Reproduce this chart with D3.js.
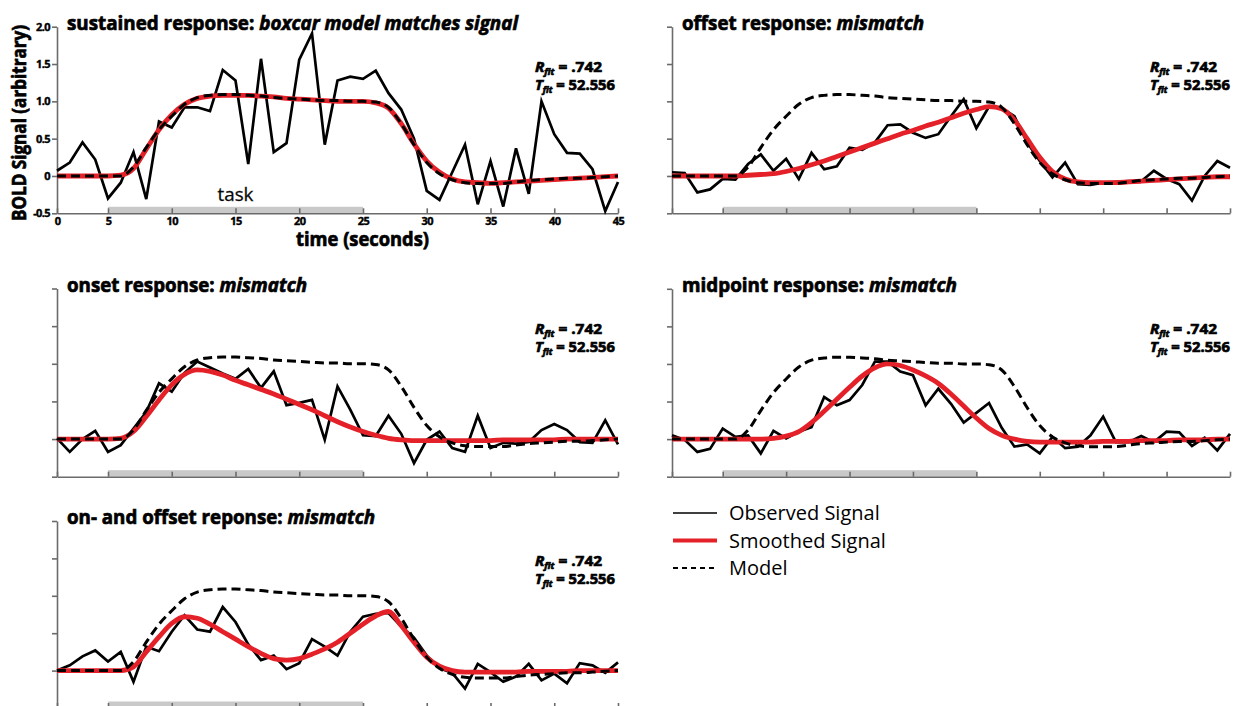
<!DOCTYPE html>
<html lang="en">
<head>
    <meta charset="UTF-8">
    <title>boxcar model fits</title>
    <script src="https://d3js.org/d3.v7.min.js"></script>
    <style>
        body { margin: 0; background: #fff; }
        svg text { font-family: "Open Sans", "Noto Sans", sans-serif; fill: #000; }
        .axis path, .axis line { stroke: #6b6b6b; stroke-width: 1.6px; }
        .heavy { stroke: #000; stroke-width: 0.7px; }
    </style>
</head>
<body>
<svg id="fig" width="1233" height="706"></svg>

<script>
    // sample times (s); the axis label "0" sits on the first sample
    let time = d3.range(1, 46)
    let xTickValues = [1, 5, 10, 15, 20, 25, 30, 35, 40, 45]
    let xTickLabels = ["0", "5", "10", "15", "20", "25", "30", "35", "40", "45"]
    let yTickValues = [-0.5, 0, 0.5, 1, 1.5, 2]
    let yTickLabels = ["-0.5", "0", "0.5", "1.0", "1.5", "2.0"]
    let taskBlock = [5, 25]
    let legendNames = ["Observed Signal", "Smoothed Signal", "Model"]
    let fitR = ".742"
    let fitT = "52.556"

    // boxcar model (same in every panel)
    let model = [0, 0, 0, 0, 0, 0.0, 0.12, 0.38, 0.62, 0.8,
        0.96, 1.05, 1.08, 1.09, 1.09, 1.08, 1.07, 1.05, 1.04, 1.03,
        1.02, 1.01, 1.01, 1.0, 1.0, 0.99, 0.92, 0.7, 0.42, 0.18,
        0.03, -0.05, -0.09, -0.1, -0.1, -0.1, -0.08, -0.06, -0.05, -0.04,
        -0.03, -0.03, -0.02, -0.01, 0]

    // sustained response
    let obs_sustained = [0.07, 0.18, 0.45, 0.22, -0.3, -0.09, 0.32, -0.31, 0.73, 0.65,
        0.92, 0.92, 0.87, 1.42, 1.28, 0.16, 1.57, 0.32, 0.44, 1.56,
        1.91, 0.42, 1.28, 1.33, 1.3, 1.41, 1.11, 0.89, 0.5, -0.2,
        -0.32, 0.05, 0.42, -0.38, 0.2, -0.41, 0.37, -0.24, 1.0, 0.56,
        0.31, 0.3, 0.09, -0.47, -0.08]
    let smooth_sustained = [0, 0, 0, 0, 0, 0.01, 0.1, 0.36, 0.62, 0.82,
        0.96, 1.04, 1.07, 1.08, 1.08, 1.08, 1.07, 1.06, 1.04, 1.03,
        1.02, 1.01, 1.0, 1.0, 1.0, 0.98, 0.91, 0.7, 0.43, 0.2,
        0.05, -0.04, -0.08, -0.09, -0.1, -0.09, -0.08, -0.07, -0.06, -0.05,
        -0.04, -0.03, -0.02, -0.01, 0]

    // offset response
    let obs_offset = [0.05, 0.04, -0.22, -0.18, -0.04, -0.05, 0.16, 0.29, 0.07, 0.23,
        -0.04, 0.31, 0.09, 0.13, 0.38, 0.35, 0.45, 0.68, 0.69, 0.58,
        0.51, 0.56, 0.8, 1.03, 0.64, 0.93, 0.91, 0.8, 0.45, 0.2,
        -0.02, 0.18, -0.11, -0.12, -0.09, -0.08, -0.07, -0.07, 0.07, -0.04,
        -0.11, -0.33, 0.0, 0.2, 0.11]
    let smooth_offset = [0, 0, 0, 0, 0, 0, 0.01, 0.02, 0.03, 0.06,
        0.1, 0.15, 0.2, 0.26, 0.32, 0.38, 0.44, 0.5, 0.56, 0.61,
        0.67, 0.72, 0.78, 0.84, 0.89, 0.93, 0.9, 0.75, 0.5, 0.25,
        0.06, -0.04, -0.08, -0.09, -0.09, -0.09, -0.08, -0.07, -0.06, -0.05,
        -0.04, -0.03, -0.02, -0.01, -0.01]

    // onset response
    let obs_onset = [0.01, -0.17, 0.0, 0.11, -0.17, -0.08, 0.14, 0.36, 0.74, 0.63,
        0.88, 1.03, 0.95, 0.87, 0.8, 0.93, 0.68, 0.9, 0.45, 0.48,
        0.52, -0.01, 0.7, 0.39, 0.05, 0.04, 0.31, 0.07, -0.32, -0.01,
        0.1, -0.12, -0.17, 0.31, -0.12, -0.05, -0.06, -0.04, 0.12, 0.2,
        0.12, -0.04, -0.05, 0.25, -0.07]
    let smooth_onset = [0, 0, 0, 0, 0, 0.01, 0.1, 0.3, 0.52, 0.72,
        0.86, 0.92, 0.9, 0.85, 0.78, 0.72, 0.66, 0.6, 0.53, 0.46,
        0.39, 0.31, 0.23, 0.16, 0.1, 0.05, 0.01, -0.01, -0.02, -0.02,
        -0.02, -0.02, -0.02, -0.02, -0.02, -0.01, -0.01, -0.01, -0.01, -0.01,
        0, 0, 0, 0, 0]

    // midpoint response
    let obs_midpoint = [0.05, -0.01, -0.17, -0.13, 0.14, 0.03, 0.05, -0.19, 0.11, 0.01,
        0.1, 0.16, 0.56, 0.45, 0.52, 0.72, 1.03, 1.03, 0.9, 0.85,
        0.45, 0.67, 0.47, 0.22, 0.35, 0.48, 0.15, -0.1, -0.07, -0.19,
        0.03, -0.12, -0.1, 0.05, 0.3, -0.04, -0.04, 0.04, -0.04, 0.1,
        0.09, -0.09, 0.02, -0.15, 0.07]
    let smooth_midpoint = [0, 0, 0, 0, 0, 0, 0, 0, 0.01, 0.04,
        0.1, 0.22, 0.37, 0.53, 0.69, 0.84, 0.95, 1.0, 0.98, 0.92,
        0.84, 0.74, 0.6, 0.44, 0.28, 0.14, 0.05, 0, -0.03, -0.04,
        -0.04, -0.04, -0.04, -0.04, -0.03, -0.03, -0.03, -0.02, -0.02, -0.02,
        -0.01, -0.01, -0.01, 0, 0]

    // on- and offset response
    let obs_onoff = [0.0, 0.07, 0.19, 0.27, 0.12, 0.25, -0.15, 0.32, 0.26, 0.52,
        0.74, 0.55, 0.52, 0.85, 0.65, 0.35, 0.14, 0.2, 0.02, 0.1,
        0.42, 0.32, 0.2, 0.52, 0.72, 0.76, 0.77, 0.59, 0.44, 0.2,
        0.03, -0.03, -0.24, 0.09, -0.02, -0.15, -0.08, 0.09, -0.13, -0.04,
        -0.17, 0.1, 0.07, -0.03, 0.11]
    let smooth_onoff = [0, 0, 0, 0, 0, 0, 0.05, 0.25, 0.45, 0.63,
        0.72, 0.7, 0.62, 0.52, 0.42, 0.32, 0.23, 0.16, 0.14, 0.16,
        0.22, 0.29, 0.38, 0.5, 0.62, 0.73, 0.79, 0.6, 0.38, 0.18,
        0.06, 0, -0.02, -0.02, -0.02, -0.02, -0.02, -0.01, -0.01, -0.01,
        -0.01, 0, 0, 0, 0]

    let panels = [
        {head: "sustained response: ", tail: "boxcar model matches signal", obs: obs_sustained, smooth: smooth_sustained,
            left: 57, right: 618, top: 26.7, bottom: 213.3, titleLen: 451, labels: true},
        {head: "offset response: ", tail: "mismatch", obs: obs_offset, smooth: smooth_offset,
            left: 672, right: 1230, top: 26.7, bottom: 213.3, titleLen: 242},
        {head: "onset response: ", tail: "mismatch", obs: obs_onset, smooth: smooth_onset,
            left: 57, right: 618, top: 288.5, bottom: 476.7, titleLen: 240},
        {head: "midpoint response: ", tail: "mismatch", obs: obs_midpoint, smooth: smooth_midpoint,
            left: 672, right: 1230, top: 288.8, bottom: 476.7, titleLen: 275},
        {head: "on- and offset reponse: ", tail: "mismatch", obs: obs_onoff, smooth: smooth_onoff,
            left: 57, right: 618, top: 521, bottom: 708, titleLen: 308}
    ]

    let red = "#e42128"
    let svg = d3.select("#fig")

    function draw_panel(p) {
        let g = svg.append("g")
        let x = d3.scaleLinear().domain([1, 45]).range([p.left, p.right])
        let y = d3.scaleLinear().domain([-0.5, 2]).range([p.bottom, p.top])

        // task block
        g.append("rect")
            .attr("x", x(taskBlock[0]))
            .attr("width", x(taskBlock[1]) - x(taskBlock[0]))
            .attr("y", y(-0.5) - 6.5)
            .attr("height", 6.5)
            .attr("fill", "#c9c9c9")

        let xAxis = d3.axisBottom(x).tickValues(xTickValues).tickSizeInner(-5).tickSizeOuter(0)
            .tickPadding(4)
            .tickFormat((d, i) => p.labels ? xTickLabels[i] : "")
        let yAxis = d3.axisLeft(y).tickValues(yTickValues).tickSizeInner(5).tickSizeOuter(0)
            .tickPadding(2)
            .tickFormat((d, i) => p.labels ? yTickLabels[i] : "")

        g.append("g").attr("class", "axis").attr("transform", `translate(0,${y(-0.5)})`).call(xAxis)
        g.append("g").attr("class", "axis").attr("transform", `translate(${x(1)},0)`).call(yAxis)
        g.selectAll(".axis text").attr("font-size", 11).attr("font-weight", 700)
            .attr("letter-spacing", "-0.6px").attr("fill", "#000")
            .attr("stroke", "#000").attr("stroke-width", 0.4)

        // lines
        let lineObs = d3.line().x((d, i) => x(time[i])).y(d => y(d))
        let lineSmooth = d3.line().x((d, i) => x(time[i])).y(d => y(d)).curve(d3.curveMonotoneX)

        g.append("path").attr("d", lineObs(p.obs))
            .attr("fill", "none").attr("stroke", "#000").attr("stroke-width", 2.7)
            .attr("stroke-linejoin", "miter")
        g.append("path").attr("d", lineSmooth(p.smooth))
            .attr("fill", "none").attr("stroke", red).attr("stroke-width", 4.8)
        g.append("path").attr("d", lineSmooth(model))
            .attr("fill", "none").attr("stroke", "#000").attr("stroke-width", 3)
            .attr("stroke-dasharray", "9,5")

        // title
        let t = g.append("text").attr("class", "heavy")
            .attr("x", p.left + 10).attr("y", p.top + 3)
            .attr("font-size", 19).attr("font-weight", 700)
            .attr("textLength", p.titleLen).attr("lengthAdjust", "spacingAndGlyphs")
        t.append("tspan").text(p.head)
        t.append("tspan").attr("font-style", "italic").text(p.tail)

        // fit statistics
        let sx = p.left + 478
        let r = g.append("text").attr("class", "heavy").attr("x", sx).attr("y", p.top + 45)
            .attr("font-size", 15).attr("font-weight", 700)
            .attr("textLength", 67).attr("lengthAdjust", "spacingAndGlyphs")
        r.append("tspan").attr("font-style", "italic").text("R")
        r.append("tspan").attr("font-style", "italic").attr("font-size", 9).attr("dy", 3).text("fit")
        r.append("tspan").attr("dy", -3).text(" = " + fitR)
        let tt = g.append("text").attr("class", "heavy").attr("x", sx).attr("y", p.top + 63)
            .attr("font-size", 15).attr("font-weight", 700)
            .attr("textLength", 80).attr("lengthAdjust", "spacingAndGlyphs")
        tt.append("tspan").attr("font-style", "italic").text("T")
        tt.append("tspan").attr("font-style", "italic").attr("font-size", 9).attr("dy", 3).text("fit")
        tt.append("tspan").attr("dy", -3).text(" = " + fitT)

        if (p.labels) {
            g.append("text").attr("x", x(15)).attr("y", y(-0.5) - 12)
                .attr("text-anchor", "middle").attr("font-size", 18).attr("fill", "#222")
                .attr("stroke", "#222").attr("stroke-width", 0.3)
                .attr("textLength", 36).attr("lengthAdjust", "spacingAndGlyphs")
                .text("task")
            g.append("text").attr("class", "heavy")
                .attr("x", (p.left + p.right) / 2 + 25).attr("y", p.bottom + 33)
                .attr("text-anchor", "middle").attr("font-size", 19).attr("font-weight", 700)
                .attr("textLength", 133).attr("lengthAdjust", "spacingAndGlyphs")
                .text("time (seconds)")
            g.append("text").attr("class", "heavy")
                .attr("transform", `translate(26,${(p.top + p.bottom) / 2 + 3}) rotate(-90)`)
                .attr("text-anchor", "middle").attr("font-size", 19).attr("font-weight", 700)
                .attr("textLength", 196).attr("lengthAdjust", "spacingAndGlyphs")
                .text("BOLD Signal (arbitrary)")
        }
    }

    panels.forEach(draw_panel)

    // legend
    let legendStyles = [
        {stroke: "#000", width: 1.6, dash: null},
        {stroke: red, width: 4, dash: null},
        {stroke: "#000", width: 2.2, dash: "5,4"}
    ]
    let legend = svg.append("g").attr("transform", "translate(673,513)")
    legendNames.forEach(function (name, i) {
        let s = legendStyles[i]
        legend.append("line")
            .attr("x1", 0).attr("x2", 44).attr("y1", i * 27.5).attr("y2", i * 27.5)
            .attr("stroke", s.stroke).attr("stroke-width", s.width)
            .attr("stroke-dasharray", s.dash)
        legend.append("text").attr("x", 56).attr("y", i * 27.5 + 7)
            .attr("font-size", 20).attr("fill", "#111")
            .text(name)
    })
</script>
</body>
</html>
